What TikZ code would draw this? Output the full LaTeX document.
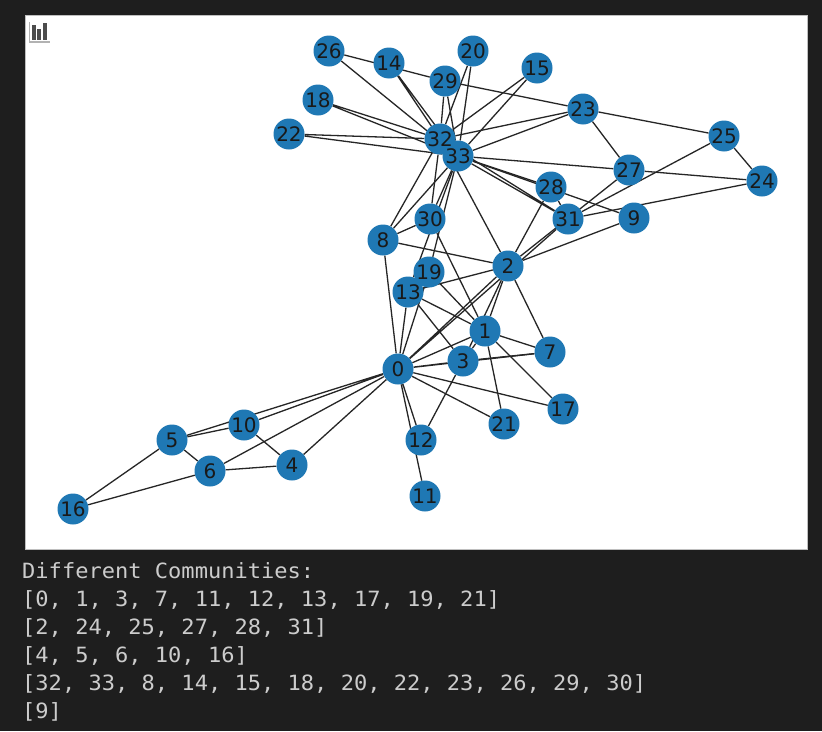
\documentclass[tikz,border=0pt]{standalone}
\usepackage{fontspec}
\usepackage{tikz}
\usetikzlibrary{backgrounds}
\newfontfamily\labelfont{DejaVu Sans}
\newfontfamily\consolefont[FakeStretch=1.05]{DejaVu Sans Mono}
\definecolor{plotBlue}{HTML}{1F78B4}
\definecolor{consoleBg}{HTML}{1E1E1E}
\definecolor{consoleText}{HTML}{CCCCCC}
\pgfdeclarelayer{edges}
\pgfdeclarelayer{discs}
\pgfsetlayers{background,edges,discs,main}
\tikzset{
  member/.style={circle, minimum size=31pt, inner sep=0pt, text=black!90, font=\labelfont\fontsize{20}{20}\selectfont},
  tie/.style={draw=black!85, line width=1.3pt},
  outline/.style={anchor=base west, inner sep=0pt, text=consoleText, font=\consolefont\fontsize{21}{21}\selectfont},
}

\begin{document}
\begin{tikzpicture}[x=1pt, y=-1pt]
\useasboundingbox (0,0) rectangle (822,731);
% console window and plot panel
\begin{pgfonlayer}{background}
\fill[consoleBg] (0,0) rectangle (822,731);
\fill[white, draw=gray!50, line width=0.8pt] (25,15) rectangle (807,549);
\end{pgfonlayer}
% small chart icon
\draw[gray!60, line width=1.2pt] (29.5,22) -- (29.5,42) -- (50,42);
\fill[black!70] (31.5,25) rectangle (35.5,40);
\fill[black!70] (37,29) rectangle (41,40);
\fill[black!70] (42.5,23) rectangle (46.5,40);

% members of the club
\node[member] (n0) at (398,369) {0};
\node[member] (n1) at (485,331) {1};
\node[member] (n2) at (508,266) {2};
\node[member] (n3) at (463,361) {3};
\node[member] (n4) at (292,465) {4};
\node[member] (n5) at (172,440) {5};
\node[member] (n6) at (210,471) {6};
\node[member] (n7) at (550,352) {7};
\node[member] (n8) at (383,240) {8};
\node[member] (n9) at (634,218) {9};
\node[member] (n10) at (244,425) {10};
\node[member] (n11) at (425,496) {11};
\node[member] (n12) at (421,440) {12};
\node[member] (n13) at (408,292) {13};
\node[member] (n14) at (389,63) {14};
\node[member] (n15) at (537,68) {15};
\node[member] (n16) at (73,509) {16};
\node[member] (n17) at (563,409) {17};
\node[member] (n18) at (318,100) {18};
\node[member] (n19) at (429,272) {19};
\node[member] (n20) at (473,51) {20};
\node[member] (n21) at (504,424) {21};
\node[member] (n22) at (289,134) {22};
\node[member] (n23) at (583,109) {23};
\node[member] (n24) at (762,181) {24};
\node[member] (n25) at (724,136) {25};
\node[member] (n26) at (329,51) {26};
\node[member] (n27) at (629,170) {27};
\node[member] (n28) at (551,187) {28};
\node[member] (n29) at (445,81) {29};
\node[member] (n30) at (430,219) {30};
\node[member] (n31) at (568,219) {31};
\node[member] (n32) at (440,139) {32};
\node[member] (n33) at (458,156) {33};

\begin{pgfonlayer}{discs}
\foreach \i in {0,...,33}
  \fill[plotBlue] (n\i.center) circle (15.5pt);
\end{pgfonlayer}

% friendships
\begin{pgfonlayer}{edges}
\draw[tie] (n0) -- (n1) (n0) -- (n2) (n0) -- (n3) (n0) -- (n4) (n0) -- (n5)
  (n0) -- (n6) (n0) -- (n7) (n0) -- (n8) (n0) -- (n10) (n0) -- (n11)
  (n0) -- (n12) (n0) -- (n13) (n0) -- (n17) (n0) -- (n19) (n0) -- (n21)
  (n0) -- (n31);
\draw[tie] (n1) -- (n2) (n1) -- (n3) (n1) -- (n7) (n1) -- (n13) (n1) -- (n17)
  (n1) -- (n19) (n1) -- (n21) (n1) -- (n30);
\draw[tie] (n2) -- (n3) (n2) -- (n7) (n2) -- (n8) (n2) -- (n9) (n2) -- (n13)
  (n2) -- (n27) (n2) -- (n28) (n2) -- (n32);
\draw[tie] (n3) -- (n7) (n3) -- (n12) (n3) -- (n13);
\draw[tie] (n4) -- (n6) (n4) -- (n10);
\draw[tie] (n5) -- (n6) (n5) -- (n10) (n5) -- (n16);
\draw[tie] (n6) -- (n16);
\draw[tie] (n8) -- (n30) (n8) -- (n32) (n8) -- (n33);
\draw[tie] (n9) -- (n33);
\draw[tie] (n13) -- (n33);
\draw[tie] (n14) -- (n32) (n14) -- (n33);
\draw[tie] (n15) -- (n32) (n15) -- (n33);
\draw[tie] (n18) -- (n32) (n18) -- (n33);
\draw[tie] (n19) -- (n33);
\draw[tie] (n20) -- (n32) (n20) -- (n33);
\draw[tie] (n22) -- (n32) (n22) -- (n33);
\draw[tie] (n23) -- (n25) (n23) -- (n27) (n23) -- (n29) (n23) -- (n32)
  (n23) -- (n33);
\draw[tie] (n24) -- (n25) (n24) -- (n27) (n24) -- (n31);
\draw[tie] (n25) -- (n31);
\draw[tie] (n26) -- (n29) (n26) -- (n33);
\draw[tie] (n27) -- (n33);
\draw[tie] (n28) -- (n31) (n28) -- (n33);
\draw[tie] (n29) -- (n32) (n29) -- (n33);
\draw[tie] (n30) -- (n32) (n30) -- (n33);
\draw[tie] (n31) -- (n32) (n31) -- (n33);
\draw[tie] (n32) -- (n33);
\end{pgfonlayer}

% printed communities
\node[outline] (head) at (22,578) {Different Communities:};
\node[outline] (c1) at (22,606) {[0, 1, 3, 7, 11, 12, 13, 17, 19, 21]};
\node[outline] (c2) at (22,634) {[2, 24, 25, 27, 28, 31]};
\node[outline] (c3) at (22,662) {[4, 5, 6, 10, 16]};
\node[outline] (c4) at (22,690) {[32, 33, 8, 14, 15, 18, 20, 22, 23, 26, 29, 30]};
\node[outline] (c5) at (22,718) {[9]};
\end{tikzpicture}
\end{document}
